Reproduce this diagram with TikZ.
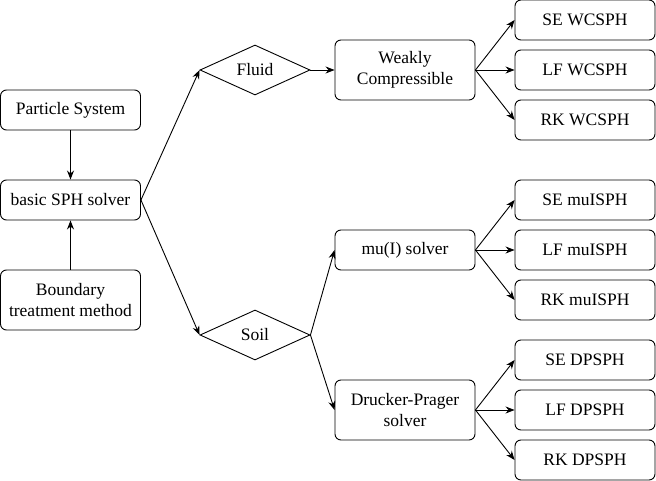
\documentclass[tikz,border=0pt]{standalone}
\usepackage{fontspec}
\setmainfont{Liberation Serif}
\usetikzlibrary{shapes.geometric,arrows.meta}
\tikzset{
  box/.style={draw, rounded corners=6pt, minimum width=140pt, minimum height=40pt, inner sep=0pt, align=center, line width=0.9pt, font=\fontsize{17.5}{21}\selectfont},
  tall/.style={box, minimum height=60pt},
  dia/.style={draw, diamond, minimum width=110pt, minimum height=50pt, inner sep=0pt, line width=0.9pt, font=\fontsize{17.5}{21}\selectfont},
  arr/.style={-{Stealth[length=9pt,width=7pt]}, line width=0.9pt}
}
\begin{document}
\begin{tikzpicture}[x=1pt,y=-1pt]
\useasboundingbox (0,0) rectangle (656,481);
\node[box] (ps) at (70.5,110) {Particle System};
\node[box] (sph) at (70.5,200) {basic SPH solver};
\node[tall] (bnd) at (70.5,300) {Boundary\\treatment method};
\node[dia] (fluid) at (255,70) {Fluid};
\node[dia] (soil) at (255,335) {Soil};
\node[tall] (wc) at (405,70) {Weakly\\Compressible};
\node[box] (mu) at (405,250) {mu(I) solver};
\node[tall] (dp) at (405,410) {Drucker-Prager\\solver};
\node[box] (sew) at (585,20) {SE WCSPH};
\node[box] (lfw) at (585,70) {LF WCSPH};
\node[box] (rkw) at (585,120) {RK WCSPH};
\node[box] (sem) at (585,200) {SE muISPH};
\node[box] (lfm) at (585,250) {LF muISPH};
\node[box] (rkm) at (585,300) {RK muISPH};
\node[box] (sed) at (585,360) {SE DPSPH};
\node[box] (lfd) at (585,410) {LF DPSPH};
\node[box] (rkd) at (585,460) {RK DPSPH};
\draw[arr] (ps) -- (sph);
\draw[arr] (bnd) -- (sph);
\draw[arr] (sph.east) -- (fluid.west);
\draw[arr] (sph.east) -- (soil.west);
\draw[arr] (fluid.east) -- (wc.west);
\draw[arr] (soil.east) -- (mu.west);
\draw[arr] (soil.east) -- (dp.west);
\foreach \s/\t in {wc/sew, wc/lfw, wc/rkw, mu/sem, mu/lfm, mu/rkm, dp/sed, dp/lfd, dp/rkd}
  \draw[arr] (\s.east) -- (\t.west);
\end{tikzpicture}
\end{document}
